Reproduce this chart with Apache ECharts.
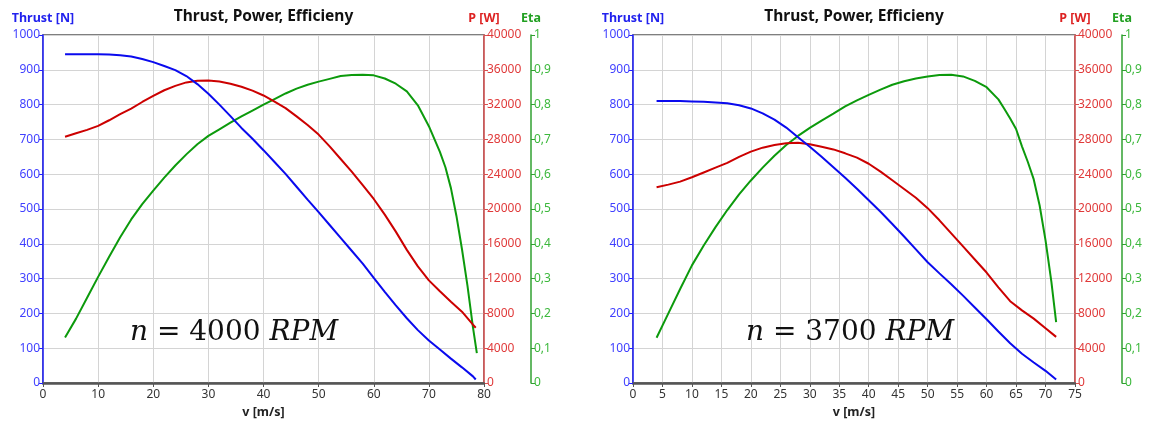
<!DOCTYPE html>
<html>
<head>
<meta charset="utf-8">
<script src="https://cdn.jsdelivr.net/npm/echarts@6/dist/echarts.min.js"></script>
<style>
  html, body { margin: 0; padding: 0; background: #fff; }
  #chart { width: 1150px; height: 424px; }
</style>
</head>
<body>
<div id="chart"></div>
<script>
// n = 4000 RPM
const vLeft = [4, 6, 8, 10, 12, 14, 16, 18, 20, 22, 24, 26, 28, 30, 32, 34, 36, 38, 40, 42,
  44, 46, 48, 50, 52, 54, 56, 58, 60, 62, 64, 66, 68, 70, 72, 74, 76, 78, 78.5]
const thrustLeft = [945, 945, 945, 945, 944, 942, 938, 931, 922, 911, 899, 882, 859, 831, 800, 767, 733, 702, 669, 635,
  601, 564, 527, 491, 454, 417, 380, 343, 302, 262, 223, 186, 152, 122, 96, 70, 45, 19, 10]
const powerLeft = [28300, 28700, 29100, 29550, 30200, 30900, 31550, 32300, 33000, 33650, 34150, 34550, 34750, 34780, 34650, 34400, 34050, 33600, 33050, 32350,
  31600, 30650, 29650, 28550, 27200, 25750, 24300, 22750, 21150, 19350, 17400, 15300, 13400, 11800, 10550, 9350, 8200, 6700, 6350]
const vEtaLeft = [4, 6, 8, 10, 12, 14, 16, 18, 20, 22, 24, 26, 28, 30, 32, 34, 36, 38, 40, 42,
  44, 46, 48, 50, 52, 54, 56, 58, 60, 62, 64, 66, 68, 70, 72, 73, 74, 75, 76, 77, 78, 78.7]
const etaLeft = [0.131, 0.185, 0.245, 0.305, 0.363, 0.419, 0.47, 0.514, 0.553, 0.59, 0.625, 0.657, 0.686, 0.71, 0.729, 0.748, 0.766, 0.783, 0.8, 0.816,
  0.832, 0.846, 0.857, 0.866, 0.874, 0.882, 0.885, 0.886, 0.884, 0.875, 0.86, 0.838, 0.798, 0.738, 0.664, 0.62, 0.56, 0.48, 0.385, 0.28, 0.16, 0.086]

// n = 3700 RPM
const vRight = [4, 6, 8, 10, 12, 14, 16, 18, 20, 22, 24, 26, 28, 30, 32, 34, 36, 38, 40, 42,
  44, 46, 48, 50, 52, 54, 56, 58, 60, 62, 64, 66, 68, 70, 71.8]
const thrustRight = [810, 810, 810, 809, 808, 806, 804, 798, 789, 775, 757, 734, 706, 679, 650, 620, 590, 558, 525, 492,
  457, 421, 384, 347, 315, 284, 251, 217, 183, 148, 114, 84, 59, 35, 10]
const powerRight = [22500, 22800, 23150, 23650, 24200, 24750, 25300, 26000, 26600, 27050, 27350, 27550, 27620, 27450, 27150, 26850, 26400, 25900, 25200, 24300,
  23300, 22300, 21300, 20100, 18700, 17200, 15700, 14200, 12700, 11000, 9400, 8350, 7400, 6300, 5300]
const vEtaRight = [4, 6, 8, 10, 12, 14, 16, 18, 20, 22, 24, 26, 28, 30, 32, 34, 36, 38, 40, 42,
  44, 46, 48, 50, 52, 54, 56, 58, 60, 62, 63, 64, 65, 66, 67, 68, 69, 70, 71, 71.8]
const etaRight = [0.13, 0.2, 0.27, 0.338, 0.395, 0.448, 0.497, 0.542, 0.582, 0.619, 0.653, 0.684, 0.71, 0.733, 0.754, 0.774, 0.795, 0.812, 0.828, 0.843,
  0.857, 0.867, 0.875, 0.881, 0.885, 0.886, 0.881, 0.868, 0.85, 0.815, 0.788, 0.76, 0.73, 0.68, 0.635, 0.585, 0.51, 0.41, 0.29, 0.175]

const titleText = 'Thrust, Power, Efficieny'
const rpmLabels = ['4000', '3700']

const FONT = '"Noto Sans", sans-serif'
const BLUE = '#0a0aee'
const RED = '#cc0000'
const GREEN = '#0c9a0c'

const pairs = (xs, ys) => xs.map((x, i) => [x, ys[i]])
const plain = (val) => String(val)

const panels = [
  { left: 43, width: 441, xMax: 80, xStep: 10, text: rpmLabels[0], textX: 130,
    v: vLeft, thrust: thrustLeft, power: powerLeft, vEta: vEtaLeft, eta: etaLeft },
  { left: 633, width: 442, xMax: 75, xStep: 5, text: rpmLabels[1], textX: 746,
    v: vRight, thrust: thrustRight, power: powerRight, vEta: vEtaRight, eta: etaRight },
]
const TOP = 35
const HEIGHT = 352

const grid = []
const xAxis = []
const yAxis = []
const series = []
const graphic = []

panels.forEach((p, gi) => {
  grid.push({
    left: p.left, top: TOP, width: p.width, height: HEIGHT,
    show: true, borderColor: '#555', borderWidth: 1.5, backgroundColor: '#fff',
  })
  xAxis.push({
    type: 'value', gridIndex: gi, min: 0, max: p.xMax, interval: p.xStep,
    name: 'v [m/s]', nameLocation: 'middle', nameGap: 23,
    nameTextStyle: { fontFamily: FONT, fontSize: 12.5, fontWeight: 'bold', color: '#222' },
    axisLine: { lineStyle: { color: '#555', width: 2.5 } },
    axisTick: { length: 4, lineStyle: { color: '#555' } },
    axisLabel: { fontFamily: FONT, fontSize: 12, color: '#333', margin: 6, formatter: plain },
    splitLine: { lineStyle: { color: '#d4d4d4', width: 1 } },
  })
  const yBase = yAxis.length
  yAxis.push({
    type: 'value', gridIndex: gi, position: 'left', min: 0, max: 1000, interval: 100,
    name: 'Thrust [N]', nameGap: 10,
    nameTextStyle: { fontFamily: FONT, fontSize: 12.5, fontWeight: 'bold', color: '#2222ee', align: 'center' },
    axisLine: { show: true, lineStyle: { color: '#2020ff', width: 1.5 } },
    axisTick: { show: true, length: 4, lineStyle: { color: '#2020ff' } },
    axisLabel: { fontFamily: FONT, fontSize: 12, color: '#4040ff', margin: 3, formatter: plain },
    splitLine: { lineStyle: { color: '#d4d4d4', width: 1 } },
  })
  yAxis.push({
    type: 'value', gridIndex: gi, position: 'right', min: 0, max: 40000, interval: 4000,
    name: 'P [W]', nameGap: 10,
    nameTextStyle: { fontFamily: FONT, fontSize: 12.5, fontWeight: 'bold', color: '#dd2222', align: 'center' },
    axisLine: { show: true, lineStyle: { color: '#d85050', width: 1.5 } },
    axisTick: { show: true, length: 4, lineStyle: { color: '#d85050' } },
    axisLabel: { fontFamily: FONT, fontSize: 12, color: '#e03a3a', margin: 3, formatter: plain },
    splitLine: { show: false },
  })
  yAxis.push({
    type: 'value', gridIndex: gi, position: 'right', offset: 47, min: 0, max: 1, interval: 0.1,
    name: 'Eta', nameGap: 10,
    nameTextStyle: { fontFamily: FONT, fontSize: 12.5, fontWeight: 'bold', color: '#22a022', align: 'center' },
    axisLine: { show: true, lineStyle: { color: '#30a030', width: 1.5 } },
    axisTick: { show: true, length: 4, lineStyle: { color: '#30a030' } },
    axisLabel: {
      fontFamily: FONT, fontSize: 12, color: '#3cb83c', margin: 3,
      formatter: (val) => String(+val.toFixed(1)).replace('.', ','),
    },
    splitLine: { show: false },
  })

  const line = (data, yi, color) => ({
    type: 'line', xAxisIndex: gi, yAxisIndex: yBase + yi, data,
    showSymbol: false, symbol: 'none', smooth: false,
    lineStyle: { color, width: 2 }, silent: true, animation: false,
  })
  series.push(line(pairs(p.vEta, p.eta), 2, GREEN))
  series.push(line(pairs(p.v, p.power), 1, RED))
  series.push(line(pairs(p.v, p.thrust), 0, BLUE))

  graphic.push({
    type: 'text', x: p.left + p.width / 2, y: 17,
    style: { text: titleText, fontFamily: FONT, fontSize: 15.5, fontWeight: 'bold', fill: '#111',
      textAlign: 'center', textVerticalAlign: 'middle' },
  })
  graphic.push({
    type: 'text', x: p.textX, y: 333, z: 10,
    style: {
      text: '{i|n}{r| = ' + p.text + ' }{i|RPM}',
      textVerticalAlign: 'middle',
      rich: {
        i: { fontFamily: '"DejaVu Serif", serif', fontStyle: 'italic', fontSize: 28, fill: '#111' },
        r: { fontFamily: '"DejaVu Serif", serif', fontSize: 28, fill: '#111' },
      },
    },
  })
})

const chart = echarts.init(document.getElementById('chart'))
chart.setOption({
  animation: false,
  grid, xAxis, yAxis, series, graphic,
})
</script>
</body>
</html>
